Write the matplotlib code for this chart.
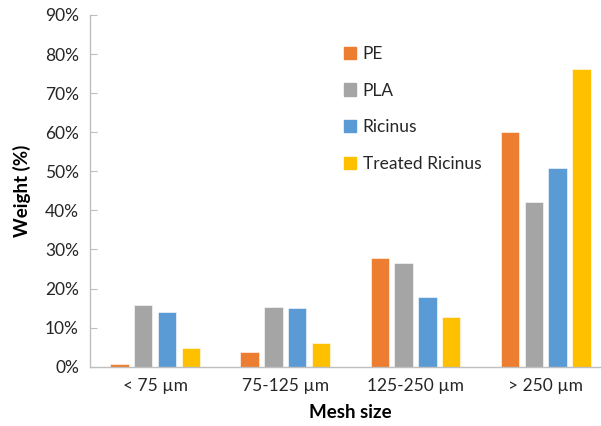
import numpy as np
import matplotlib
matplotlib.use('Agg')
import matplotlib.pyplot as plt
from matplotlib.ticker import PercentFormatter
from matplotlib.patches import Patch

plt.rcParams['font.family'] = ['Lato', 'DejaVu Sans']

# data (percent weight per sieve fraction)
mesh = ['< 75 µm', '75-125 µm', '125-250 µm', '> 250 µm']
pe = [0.8, 3.7, 27.7, 60.1]
pla = [15.7, 15.2, 26.5, 42.2]
ricinus = [13.9, 15.0, 17.9, 50.9]
treated = [4.8, 6.0, 12.6, 76.3]

series = [('PE', pe, '#ED7D31'),
          ('PLA', pla, '#A5A5A5'),
          ('Ricinus', ricinus, '#5B9BD5'),
          ('Treated Ricinus', treated, '#FFC000')]

fig = plt.figure(figsize=(6.01, 4.26), dpi=100)
ax = fig.add_axes([0.1498, 0.1392, 1.0163 - 0.1498, 0.9648 - 0.1392])

x = np.arange(len(mesh))
step = 0.183
width = 0.142
for i, (name, vals, col) in enumerate(series):
    ax.bar(x + (i - 1.5) * step, vals, width, color=col, label=name,
           edgecolor='white', linewidth=0.4)

ax.set_xlim(-0.5, len(mesh) - 0.5)
ax.set_ylim(0, 90)
ax.set_yticks(np.arange(0, 91, 10))
ax.yaxis.set_major_formatter(PercentFormatter(decimals=0))
ax.set_xticks(x)
ax.set_xticklabels(mesh)

for s in ['top', 'right']:
    ax.spines[s].set_visible(False)
for s in ['left', 'bottom']:
    ax.spines[s].set_color('#BFBFBF')
    ax.spines[s].set_linewidth(1.0)
ax.tick_params(axis='y', direction='in', length=5, color='#BFBFBF',
               labelsize=12.5, pad=8, labelcolor='#262626')
ax.tick_params(axis='x', length=0, labelsize=12.5, pad=8, labelcolor='#262626')

ax.set_xlabel('Mesh size', fontsize=13.5, fontweight='bold', labelpad=7)
ax.set_ylabel('Weight (%)', fontsize=13.5, fontweight='bold', labelpad=10)

handles = [Patch(color=c) for _, _, c in series]
fig.legend(handles, [n for n, _, _ in series], loc='upper left',
           bbox_to_anchor=(335 / 601, 1 - 37 / 426), frameon=False,
           borderpad=0, handlelength=0.7, handleheight=0.7,
           handletextpad=0.4, labelspacing=1.2, fontsize=12.5,
           labelcolor='#262626')

fig.savefig('out.png', dpi=100)
